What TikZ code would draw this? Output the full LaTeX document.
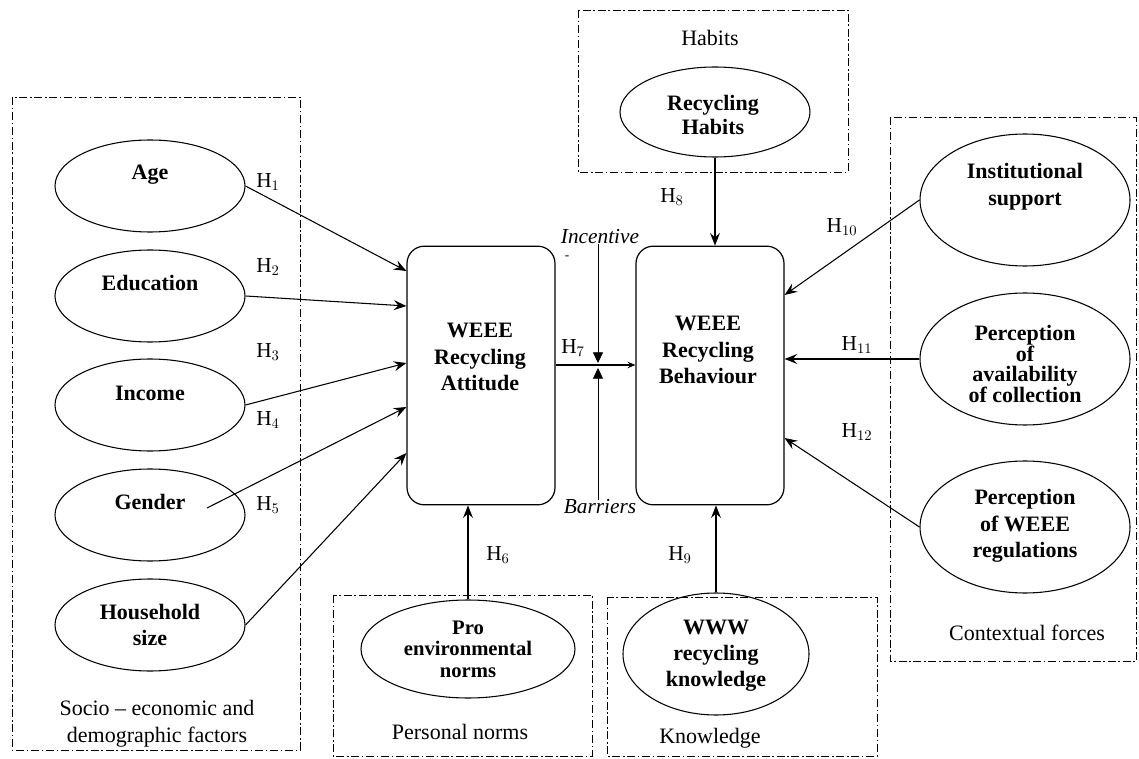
\documentclass[tikz,border=0pt]{standalone}
\usepackage{fontspec}
\setmainfont{Liberation Serif}
\usetikzlibrary{arrows.meta,shapes.geometric,calc}
\begin{document}
\begin{tikzpicture}[x=0.75pt,y=-0.75pt,
  ell/.style={draw, ellipse, inner sep=0pt, line width=0.8pt},
  bx/.style={draw, rounded corners=13pt, line width=0.9pt, inner sep=0pt},
  grp/.style={draw, line width=0.6pt, dash pattern=on 6pt off 2pt on 1.2pt off 2pt},
  tb/.style={font=\fontsize{16.5}{20}\selectfont\bfseries, align=center, inner sep=0pt},
  tr/.style={font=\fontsize{16.5}{20}\selectfont, align=center, inner sep=0pt},
  hl/.style={font=\fontsize{16}{18}\selectfont, inner sep=0pt},
  arr/.style={line width=0.8pt, -{Stealth[length=9.5pt,width=7.5pt,inset=3.5pt]}},
  sarr/.style={line width=0.8pt, -{Stealth[length=6pt,width=5pt,inset=2.5pt]}},
  tri/.style={line width=0.6pt, -{Triangle[length=8pt,width=7.5pt]}},
  lell/.style={ell, minimum width=142.5pt, minimum height=69pt},
  rell/.style={ell, minimum width=157.5pt, minimum height=99pt},
]
\useasboundingbox (0,0) rectangle (1139,759);
\fill[white] (0,0) rectangle (1139,759);

% group boxes
\draw[grp] (12,97) rectangle (300,750);
\draw[grp] (578,10) rectangle (848,172);
\draw[grp] (333,595) rectangle (592,756);
\draw[grp] (607,597) rectangle (877,756);
\draw[grp] (890,117) rectangle (1136,661);

% group titles
\node[tr] (tsocio) at (157,723.5) {Socio -- economic and\\demographic factors};
\node[tr] (thab) at (710,38) {Habits};
\node[tr] (tpers) at (460,732) {Personal norms};
\node[tr] (tknow) at (710,738) {Knowledge};
\node[tr] (tcont) at (1027,633) {Contextual forces};

% left ellipses
\node[lell] (age) at (150,186) {};
\node[tb] (agetxt) at (150,175) {Age};
\node[lell] (edu) at (150,296) {};
\node[tb] (edutxt) at (150,283) {Education};
\node[lell] (inc) at (150,405) {};
\node[tb] (inctxt) at (150,393) {Income};
\node[lell] (gen) at (150,515) {};
\node[tb] (gentxt) at (150,502) {Gender};
\node[lell] (hh) at (150,625) {};
\node[tb] (hhtxt) at (150,625) {Household\\size};

% central boxes
\node[bx, minimum width=111pt, minimum height=194pt] (att) at (481,375.5) {};
\node[tb] (atttxt) at (480,357) {WEEE\\Recycling\\Attitude};
\node[bx, minimum width=111pt, minimum height=194pt] (beh) at (710,375.5) {};
\node[tb] (behtxt) at (708,350) {WEEE\\Recycling\\Behaviour};

% habits
\node[ell, minimum width=142.5pt, minimum height=67.5pt] (hab) at (715,112) {};
\node[tb, font=\fontsize{16.5}{18}\selectfont\bfseries] (habtxt) at (713,115) {Recycling\\Habits};

% bottom ellipses
\node[ell, minimum width=160.5pt, minimum height=73.5pt] (pro) at (468,649) {};
\node[tb, font=\fontsize{15.5}{16}\selectfont\bfseries] (protxt) at (468,649) {Pro\\environmental\\norms};
\node[ell, minimum width=139.5pt, minimum height=91.5pt] (www) at (716,654) {};
\node[tb, font=\fontsize{16.5}{19.5}\selectfont\bfseries] (wwwtxt) at (716,656) {WWW\\recycling\\knowledge};

% right ellipses
\node[rell] (inst) at (1025,200) {};
\node[tb] (insttxt) at (1025,187) {Institutional\\support};
\node[rell] (avail) at (1025,359) {};
\node[tb, font=\fontsize{16.5}{15.5}\selectfont\bfseries] (availtxt) at (1025,364) {Perception\\of\\availability\\of collection};
\node[rell] (reg) at (1025,527) {};
\node[tb] (regtxt) at (1025,526) {Perception\\of WEEE\\regulations};

% arrows into attitude
\coordinate (gin) at (207,508);
\draw[arr] (age.east) -- (att.west |- 0,271);
\draw[arr] (edu.east) -- (att.west |- 0,306);
\draw[arr] (inc.east) -- (att.west |- 0,363);
\draw[arr] (gin) -- (att.west |- 0,407);
\draw[arr] (hh.east) -- (att.west |- 0,453);
\draw[arr] (pro.north) -- (att.south -| pro.north);

% attitude -> behaviour with moderators
\draw[sarr] (att.east |- 0,365) -- (beh.west |- 0,365);
\node[hl, font=\fontsize{16}{18}\selectfont\itshape] (incent) at (600,237) {Incentive};
\node[hl, font=\fontsize{10}{12}\selectfont] (incdash) at (567,258) {-};
\node[hl, font=\fontsize{16}{18}\selectfont\itshape] (barr) at (600,507) {Barriers};
\coordinate (mid) at (598,365);
\draw[tri] (incent.south -| mid) -- ($(mid)+(0,-2)$);
\draw[tri] (barr.north -| mid) -- ($(mid)+(0,3)$);

% arrows into behaviour
\draw[arr] (hab.south) -- (beh.north -| hab.south);
\draw[arr] (www.north) -- (beh.south -| www.north);
\draw[arr] (inst.west) -- (beh.east |- 0,295);
\draw[arr] (avail.west) -- (avail.west -| beh.east);
\draw[arr] (reg.west) -- (beh.east |- 0,438);

% hypothesis labels
\node[hl] (h1) at (268,182) {H$_1$};
\node[hl] (h2) at (268,267) {H$_2$};
\node[hl] (h3) at (268,352) {H$_3$};
\node[hl] (h4) at (268,420) {H$_4$};
\node[hl] (h5) at (268,505) {H$_5$};
\node[hl] (h6) at (498,555) {H$_6$};
\node[hl] (h7) at (573,348) {H$_7$};
\node[hl] (h8) at (672,197) {H$_8$};
\node[hl] (h9) at (680,555) {H$_9$};
\node[hl] (h10) at (842,227) {H$_{10}$};
\node[hl] (h11) at (857,345) {H$_{11}$};
\node[hl] (h12) at (857,432) {H$_{12}$};
\end{tikzpicture}
\end{document}
